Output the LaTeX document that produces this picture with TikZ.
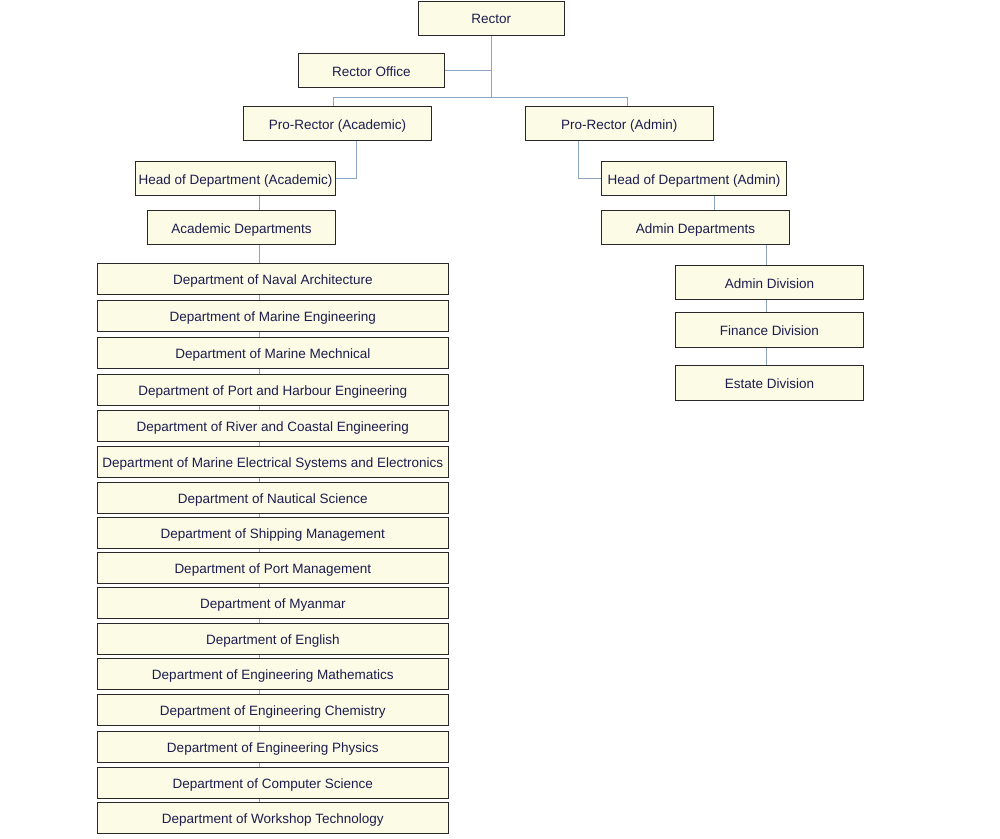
\documentclass[tikz,border=0pt]{standalone}
\usepackage{fontspec}
\setmainfont{Liberation Sans}
\usetikzlibrary{backgrounds}
\definecolor{boxfill}{RGB}{252,251,230}
\definecolor{boxline}{RGB}{40,40,40}
\definecolor{linkcol}{RGB}{140,165,192}
\definecolor{txtcol}{RGB}{28,28,78}
\tikzset{
  orgbox/.style={draw=boxline, fill=boxfill, line width=0.8pt, inner sep=0pt,
    text=txtcol, font=\fontsize{13.5}{16}\selectfont, minimum height=#1,
    text height=11.4pt, text depth=0pt},
  orgbox/.default=34pt,
  link/.style={draw=linkcol, line width=0.9pt}
}
\newcommand{\obox}[6]{% name, x1, y1, x2, y2, text
  \node[orgbox=#5pt-#3pt, minimum width=#4pt-#2pt] (#1) at ({(#2+#4)/2},{(#3+#5)/2}) {#6};}
\begin{document}
\begin{tikzpicture}[x=1pt,y=-1pt]
\useasboundingbox (0,0) rectangle (1000,838);
% top level
\obox{rector}{418.3}{1.3}{564.3}{35}{Rector}
\obox{roff}{298.3}{53.3}{444.3}{87.3}{Rector Office}
\obox{pra}{243.3}{106.7}{431.7}{140.3}{Pro-Rector (Academic)}
\obox{prb}{525.3}{106.7}{713.3}{140.3}{Pro-Rector (Admin)}
\obox{hoda}{135.3}{161.7}{335.7}{195}{Head of Department (Academic)}
\obox{hodb}{601.3}{161.7}{786.7}{195}{Head of Department (Admin)}
\obox{adep}{147.3}{210.3}{335.7}{244.3}{Academic Departments}
\obox{bdep}{601.3}{210.3}{789.7}{244.3}{Admin Departments}
% academic list
\obox{d1}{97.3}{263}{448.3}{294}{Department of Naval Architecture}
\obox{d2}{97.3}{300}{448.3}{331}{Department of Marine Engineering}
\obox{d3}{97.3}{337}{448.3}{368}{Department of Marine Mechnical}
\obox{d4}{97.3}{374}{448.3}{405}{Department of Port and Harbour Engineering}
\obox{d5}{97.3}{410}{448.3}{441}{Department of River and Coastal Engineering}
\obox{d6}{97.3}{446}{448.3}{477}{Department of Marine Electrical Systems and Electronics}
\obox{d7}{97.3}{482}{448.3}{513}{Department of Nautical Science}
\obox{d8}{97.3}{517}{448.3}{548}{Department of Shipping Management}
\obox{d9}{97.3}{552}{448.3}{583}{Department of Port Management}
\obox{d10}{97.3}{587}{448.3}{618}{Department of Myanmar}
\obox{d11}{97.3}{623}{448.3}{654}{Department of English}
\obox{d12}{97.3}{658}{448.3}{689}{Department of Engineering Mathematics}
\obox{d13}{97.3}{694}{448.3}{725}{Department of Engineering Chemistry}
\obox{d14}{97.3}{731}{448.3}{762}{Department of Engineering Physics}
\obox{d15}{97.3}{767}{448.3}{798}{Department of Computer Science}
\obox{d16}{97.3}{802}{448.3}{833}{Department of Workshop Technology}
% admin list
\obox{div1}{675.3}{265.7}{863.7}{299}{Admin Division}
\obox{div2}{675.3}{312.3}{863.7}{347.3}{Finance Division}
\obox{div3}{675.3}{365.3}{863.7}{400}{Estate Division}
% connectors
\begin{scope}[on background layer]
\fill[white] (0,0) rectangle (1000,838);
\coordinate (aspine) at (259.4,0);
\coordinate (bspine) at (766.3,0);
\draw[link] (rector.south) -- ++(0,62) coordinate (bus);
\draw[link] (roff.east) -- (roff.east -| rector.south);
\draw[link] ([xshift=-4.2pt]pra.north) |- (bus) -| ([xshift=8pt]prb.north);
\draw[link] ([xshift=18.8pt]pra.south) |- (hoda.east);
\draw[link] ([xshift=-40.6pt]prb.south) |- (hodb.west);
\draw[link] (hoda.south -| aspine) -- (d16.north -| aspine);
\draw[link] ([xshift=20.3pt]hodb.south) -- ([xshift=18.8pt]bdep.north);
\draw[link] (bdep.south -| bspine) -- (div3.north -| bspine);
\end{scope}
\end{tikzpicture}
\end{document}
